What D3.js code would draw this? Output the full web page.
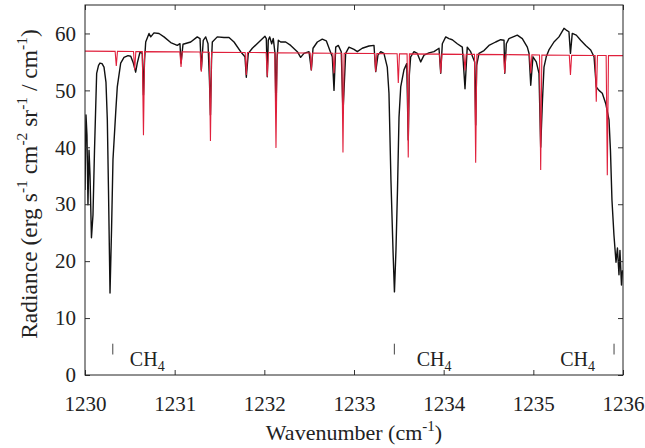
<!DOCTYPE html>
<html>
<head>
<meta charset="utf-8">
<script src="https://cdn.jsdelivr.net/npm/d3@7"></script>
<style>
body { margin: 0; background: #fff; }
text { font-family: "Liberation Serif", "Times New Roman", serif; fill: #222; }
</style>
</head>
<body>
<svg id="chart" width="645" height="448"></svg>
<script>
// tick labels
var xTicks = [1230, 1231, 1232, 1233, 1234, 1235, 1236];
var yTicks = [0, 10, 20, 30, 40, 50, 60];

var obsWave = [
  1230.000, 1230.011, 1230.022, 1230.033, 1230.045, 1230.056, 1230.072, 1230.089, 1230.106, 1230.130,
  1230.151, 1230.167, 1230.190, 1230.212, 1230.234, 1230.249, 1230.262, 1230.279, 1230.296, 1230.312,
  1230.342, 1230.360, 1230.398, 1230.435, 1230.480, 1230.510, 1230.539, 1230.565, 1230.583, 1230.613,
  1230.639, 1230.652, 1230.664, 1230.677, 1230.714, 1230.733, 1230.769, 1230.825, 1230.881, 1230.956,
  1231.029, 1231.059, 1231.071, 1231.093, 1231.179, 1231.252, 1231.283, 1231.297, 1231.319, 1231.346,
  1231.372, 1231.388, 1231.399, 1231.411, 1231.420, 1231.475, 1231.550, 1231.606, 1231.662, 1231.736,
  1231.784, 1231.799, 1231.821, 1231.866, 1231.940, 1232.007, 1232.022, 1232.033, 1232.044, 1232.060,
  1232.082, 1232.100, 1232.119, 1232.130, 1232.141, 1232.156, 1232.182, 1232.238, 1232.294, 1232.368,
  1232.405, 1232.442, 1232.498, 1232.524, 1232.543, 1232.591, 1232.646, 1232.691, 1232.729, 1232.758,
  1232.777, 1232.796, 1232.825, 1232.858, 1232.877, 1232.907, 1232.944, 1233.000, 1233.037, 1233.092,
  1233.167, 1233.223, 1233.242, 1233.267, 1233.298, 1233.334, 1233.371, 1233.390, 1233.412, 1233.435,
  1233.451, 1233.468, 1233.485, 1233.502, 1233.521, 1233.557, 1233.588, 1233.605, 1233.617, 1233.632,
  1233.669, 1233.706, 1233.744, 1233.781, 1233.836, 1233.892, 1233.948, 1233.967, 1233.985, 1234.023,
  1234.059, 1234.096, 1234.152, 1234.208, 1234.238, 1234.263, 1234.301, 1234.346, 1234.357, 1234.368,
  1234.394, 1234.450, 1234.505, 1234.580, 1234.636, 1234.673, 1234.681, 1234.699, 1234.728, 1234.821,
  1234.877, 1234.933, 1234.952, 1234.971, 1234.996, 1235.033, 1235.063, 1235.082, 1235.102, 1235.119,
  1235.144, 1235.174, 1235.230, 1235.286, 1235.342, 1235.367, 1235.397, 1235.414, 1235.434, 1235.479,
  1235.528, 1235.584, 1235.640, 1235.677, 1235.702, 1235.732, 1235.769, 1235.807, 1235.844, 1235.860,
  1235.877, 1235.899, 1235.922, 1235.938, 1235.955, 1235.966, 1235.983, 1235.994
];
var obsRad = [
  32.5, 45.7, 42.1, 29.9, 39.5, 35.1, 24.1, 28.1, 39.5, 53.0,
  54.4, 54.8, 54.7, 54.1, 51.4, 44.8, 32.5, 14.4, 25.5, 37.8,
  46.0, 50.6, 54.8, 55.8, 56.1, 56.0, 54.8, 53.2, 54.8, 56.7,
  56.5, 49.2, 55.3, 58.5, 60.0, 59.4, 60.1, 60.0, 59.4, 58.4,
  57.9, 58.2, 54.8, 58.1, 58.5, 59.4, 59.1, 53.6, 58.8, 59.4,
  58.2, 51.8, 45.7, 55.3, 58.5, 59.4, 59.3, 59.3, 58.5, 56.8,
  55.9, 52.3, 56.5, 57.4, 58.5, 59.5, 59.1, 52.4, 58.8, 59.4,
  58.2, 59.1, 56.5, 46.2, 55.3, 58.8, 58.5, 58.5, 57.9, 56.8,
  55.8, 56.5, 56.8, 53.6, 57.4, 58.5, 59.0, 58.7, 57.1, 55.9,
  50.0, 57.6, 57.9, 56.8, 46.0, 56.5, 57.6, 57.2, 56.8, 57.4,
  57.8, 57.9, 53.3, 56.2, 56.8, 56.5, 54.1, 49.5, 34.2, 21.9,
  14.6, 21.9, 32.5, 45.3, 50.6, 53.6, 54.7, 41.3, 52.7, 55.9,
  56.8, 56.5, 55.0, 56.2, 56.6, 56.8, 57.4, 53.0, 58.2, 59.4,
  59.1, 58.9, 58.2, 57.6, 50.3, 57.6, 56.8, 55.0, 43.9, 54.4,
  56.5, 57.0, 57.9, 58.5, 58.9, 58.8, 53.0, 58.2, 59.1, 59.7,
  59.1, 57.6, 56.5, 50.9, 55.9, 55.0, 53.0, 40.0, 48.3, 54.1,
  55.9, 57.1, 58.5, 59.4, 60.9, 60.6, 60.3, 56.5, 60.0, 59.7,
  58.8, 57.9, 57.1, 55.9, 50.6, 50.0, 49.5, 47.7, 44.8, 39.5,
  30.7, 24.6, 19.8, 22.3, 17.6, 21.9, 15.8, 18.4
];

// model spectrum (red): flat continuum with narrow CH4 lines
var modelWave = [
  1230.000,
  1230.336, 1230.349, 1230.362,
  1230.541, 1230.554, 1230.567,
  1230.639, 1230.652, 1230.665,
  1231.058, 1231.071, 1231.084,
  1231.284, 1231.297, 1231.310,
  1231.386, 1231.399, 1231.412,
  1231.786, 1231.799, 1231.812,
  1232.020, 1232.033, 1232.046,
  1232.117, 1232.130, 1232.143,
  1232.511, 1232.524, 1232.537,
  1232.764, 1232.777, 1232.790,
  1232.864, 1232.877, 1232.890,
  1233.229, 1233.242, 1233.255,
  1233.481, 1233.494, 1233.507,
  1233.592, 1233.605, 1233.618,
  1233.954, 1233.967, 1233.980,
  1234.225, 1234.238, 1234.251,
  1234.344, 1234.357, 1234.370,
  1234.668, 1234.681, 1234.694,
  1234.958, 1234.971, 1234.984,
  1235.069, 1235.082, 1235.095,
  1235.401, 1235.414, 1235.427,
  1235.689, 1235.702, 1235.715,
  1235.812, 1235.825, 1235.838,
  1236.000
];
var modelRad = [
  56.90,
  56.85, 54.3, 56.85,
  56.83, 53.6, 56.83,
  56.81, 42.1, 56.81,
  56.76, 54.1, 56.76,
  56.73, 53.3, 56.73,
  56.71, 41.1, 56.71,
  56.66, 52.7, 56.66,
  56.63, 52.4, 56.63,
  56.62, 39.9, 56.62,
  56.56, 53.5, 56.56,
  56.53, 53.0, 56.53,
  56.52, 39.1, 56.52,
  56.47, 53.3, 56.47,
  56.43, 51.3, 56.43,
  56.42, 38.2, 56.42,
  56.37, 53.0, 56.37,
  56.33, 53.5, 56.33,
  56.32, 37.3, 56.32,
  56.28, 53.0, 56.28,
  56.24, 53.0, 56.24,
  56.22, 36.0, 56.22,
  56.18, 52.7, 56.18,
  56.14, 48.0, 56.14,
  56.12, 35.1, 56.12,
  56.10
];

// CH4 markers
var ch4Lines = [1230.31, 1233.45, 1235.90];
var ch4Labels = [1230.50, 1233.70, 1235.30];

var margin = {top: 5, right: 22, bottom: 73, left: 85};
var width = 645 - margin.left - margin.right;
var height = 448 - margin.top - margin.bottom;

var svg = d3.select("#chart");
var g = svg.append("g")
  .attr("transform", "translate(" + margin.left + "," + margin.top + ")");

var x = d3.scaleLinear().domain([1230, 1236]).range([0, width]);
var y = d3.scaleLinear().domain([0, 65]).range([height, 0]);

var clip = svg.append("defs").append("clipPath").attr("id", "plotclip");
clip.append("rect").attr("width", width).attr("height", height);

function pairs(xs, ys) {
  var out = [];
  for (var i = 0; i < xs.length; i++) out.push([xs[i], ys[i]]);
  return out;
}

var line = d3.line()
  .x(function(d) { return x(d[0]); })
  .y(function(d) { return y(d[1]); });

var plot = g.append("g").attr("clip-path", "url(#plotclip)");

plot.append("path")
  .datum(pairs(obsWave, obsRad))
  .attr("d", line)
  .attr("fill", "none")
  .attr("stroke", "#111")
  .attr("stroke-width", 1.4)
  .attr("stroke-linejoin", "round");

plot.append("path")
  .datum(pairs(modelWave, modelRad))
  .attr("d", line)
  .attr("fill", "none")
  .attr("stroke", "#e0203c")
  .attr("stroke-width", 1.1);

// axes, ticks inward
var xAxis = d3.axisBottom(x).tickValues(xTicks).tickFormat(d3.format("d"))
  .tickSizeInner(-5).tickSizeOuter(0).tickPadding(21);
var yAxis = d3.axisLeft(y).tickValues(yTicks)
  .tickSizeInner(-5).tickSizeOuter(0).tickPadding(9);

var gx = g.append("g").attr("transform", "translate(0," + height + ")").call(xAxis);
var gy = g.append("g").call(yAxis);
g.append("g").call(d3.axisTop(x).tickValues(xTicks).tickFormat("").tickSizeInner(-5).tickSizeOuter(0));
g.append("g").attr("transform", "translate(" + width + ",0)")
  .call(d3.axisRight(y).tickValues(yTicks).tickFormat("").tickSizeInner(-5).tickSizeOuter(0));

g.selectAll(".domain").remove();
g.selectAll(".tick line").attr("stroke", "#333");
gx.selectAll("text").attr("font-size", 21).attr("fill", "#222");
gy.selectAll("text").attr("font-size", 21).attr("fill", "#222");

g.append("rect")
  .attr("width", width).attr("height", height)
  .attr("fill", "none").attr("stroke", "#222").attr("stroke-width", 1);

// CH4 marks
g.selectAll(".ch4mark").data(ch4Lines).enter().append("line")
  .attr("class", "ch4mark")
  .attr("x1", function(d) { return x(d); })
  .attr("x2", function(d) { return x(d); })
  .attr("y1", y(5.5)).attr("y2", y(3.6))
  .attr("stroke", "#444").attr("stroke-width", 1);

var ch4 = g.selectAll(".ch4lab").data(ch4Labels).enter().append("text")
  .attr("class", "ch4lab")
  .attr("x", function(d) { return x(d); })
  .attr("y", y(1.6))
  .attr("font-size", 20);
ch4.append("tspan").text("CH");
ch4.append("tspan").attr("font-size", 14).attr("dy", 5).text("4");

// axis titles
var xt = svg.append("text")
  .attr("x", margin.left + width / 2)
  .attr("y", 440)
  .attr("text-anchor", "middle")
  .attr("font-size", 22);
xt.append("tspan").text("Wavenumber (cm");
xt.append("tspan").attr("font-size", 15).attr("dy", -9).text("-1");
xt.append("tspan").attr("dy", 9).text(")");

var yt = svg.append("text")
  .attr("transform", "translate(37,184) rotate(-90)")
  .attr("text-anchor", "middle")
  .attr("font-size", 23.5);
var parts = [["Radiance (erg s", "-1"], [" cm", "-2"], [" sr", "-1"], [" / cm", "-1"]];
parts.forEach(function(p, i) {
  yt.append("tspan").attr("dy", i === 0 ? 0 : 10).text(p[0]);
  yt.append("tspan").attr("font-size", 15.5).attr("dy", -10).text(p[1]);
});
yt.append("tspan").attr("dy", 10).text(")");
</script>
</body>
</html>
